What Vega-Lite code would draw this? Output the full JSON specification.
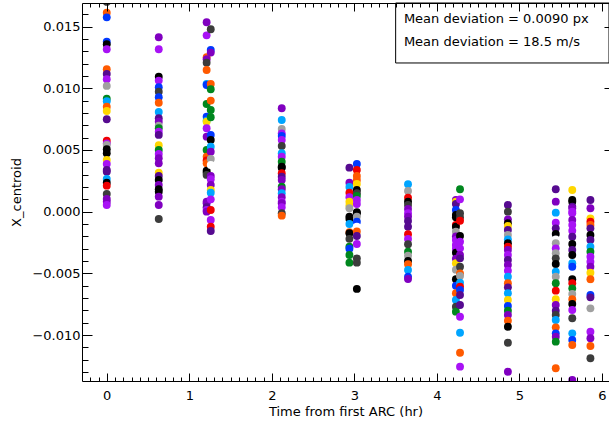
{
 "$schema": "https://vega.github.io/schema/vega-lite/v6.json",
 "width": 527,
 "height": 378,
 "autosize": {"type": "none"},
 "padding": {"left": 82, "top": 3, "right": 0, "bottom": 47},
 "background": "white",
 "config": {
  "view": {"stroke": null},
  "font": "DejaVu Sans",
  "axis": {"domainColor": "black", "tickColor": "black", "labelColor": "black", "titleColor": "black", "labelFont": "DejaVu Sans", "titleFont": "DejaVu Sans", "labelFontSize": 13, "titleFontSize": 13, "titleFontWeight": "normal", "grid": false, "domainWidth": 1, "tickWidth": 1}
 },
 "datasets": {
  "pts": [
   {"t":0,"x":0.0170,"c":"darkgray"},{"t":0,"x":0.01613,"c":"orange"},{"t":0,"x":0.01575,"c":"blue"},{"t":0,"x":0.01378,"c":"blue"},{"t":0,"x":0.01357,"c":"black"},{"t":0,"x":0.01316,"c":"violet"},{"t":0,"x":0.01154,"c":"orange"},{"t":0,"x":0.01116,"c":"darkpurple"},{"t":0,"x":0.01073,"c":"violet"},{"t":0,"x":0.01019,"c":"gray"},{"t":0,"x":0.00916,"c":"green"},{"t":0,"x":0.00895,"c":"skyblue"},{"t":0,"x":0.00851,"c":"orange"},{"t":0,"x":0.00816,"c":"yellow"},{"t":0,"x":0.00749,"c":"darkpurple"},{"t":0,"x":0.00575,"c":"red"},{"t":0,"x":0.00554,"c":"violet"},{"t":0,"x":0.0054,"c":"gray"},{"t":0,"x":0.00506,"c":"black"},{"t":0,"x":0.00473,"c":"black"},{"t":0,"x":0.00419,"c":"yellow"},{"t":0,"x":0.00387,"c":"violet"},{"t":0,"x":0.00338,"c":"darkpurple"},{"t":0,"x":0.00324,"c":"darkpurple"},{"t":0,"x":0.00265,"c":"skyblue"},{"t":0,"x":0.00235,"c":"black"},{"t":0,"x":0.00211,"c":"red"},{"t":0,"x":0.00143,"c":"darkgray"},{"t":0,"x":0.00103,"c":"purple"},{"t":0,"x":0.00081,"c":"purple"},{"t":0,"x":0.00054,"c":"violet"},
   {"t":0.63,"x":0.01413,"c":"purple"},{"t":0.63,"x":0.01316,"c":"violet"},{"t":0.63,"x":0.01094,"c":"black"},{"t":0.63,"x":0.01062,"c":"violet"},{"t":0.63,"x":0.01008,"c":"blue"},{"t":0.63,"x":0.00972,"c":"darkgray"},{"t":0.63,"x":0.00927,"c":"blue"},{"t":0.63,"x":0.00883,"c":"orange"},{"t":0.63,"x":0.00808,"c":"skyblue"},{"t":0.63,"x":0.00757,"c":"darkpurple"},{"t":0.63,"x":0.00729,"c":"purple"},{"t":0.63,"x":0.00697,"c":"gray"},{"t":0.63,"x":0.00676,"c":"green"},{"t":0.63,"x":0.00648,"c":"violet"},{"t":0.63,"x":0.00622,"c":"darkpurple"},{"t":0.63,"x":0.00538,"c":"yellow"},{"t":0.63,"x":0.005,"c":"green"},{"t":0.63,"x":0.00468,"c":"violet"},{"t":0.63,"x":0.00433,"c":"purple"},{"t":0.63,"x":0.00392,"c":"purple"},{"t":0.63,"x":0.00316,"c":"yellow"},{"t":0.63,"x":0.00289,"c":"darkpurple"},{"t":0.63,"x":0.00257,"c":"black"},{"t":0.63,"x":0.00216,"c":"purple"},{"t":0.63,"x":0.00182,"c":"black"},{"t":0.63,"x":0.00162,"c":"black"},{"t":0.63,"x":0.00122,"c":"purple"},{"t":0.63,"x":0.00054,"c":"purple"},{"t":0.63,"x":-0.00059,"c":"darkgray"},
   {"t":1.21,"x":0.01535,"c":"purple"},{"t":1.21,"x":0.01429,"c":"violet"},{"t":1.21,"x":0.01251,"c":"orange"},{"t":1.21,"x":0.01235,"c":"purple"},{"t":1.21,"x":0.01207,"c":"darkgray"},{"t":1.21,"x":0.01148,"c":"orange"},{"t":1.21,"x":0.01035,"c":"skyblue"},{"t":1.21,"x":0.01027,"c":"blue"},{"t":1.21,"x":0.00873,"c":"green"},{"t":1.21,"x":0.0077,"c":"blue"},{"t":1.21,"x":0.00737,"c":"skyblue"},{"t":1.21,"x":0.00729,"c":"yellow"},{"t":1.21,"x":0.00676,"c":"violet"},{"t":1.21,"x":0.00608,"c":"purple"},{"t":1.21,"x":0.005,"c":"green"},{"t":1.21,"x":0.00446,"c":"orange"},{"t":1.21,"x":0.00415,"c":"red"},{"t":1.21,"x":0.00392,"c":"orange"},{"t":1.21,"x":0.00332,"c":"black"},{"t":1.21,"x":0.00316,"c":"black"},{"t":1.21,"x":0.00298,"c":"darkgray"},{"t":1.21,"x":0.00081,"c":"purple"},{"t":1.21,"x":0.00068,"c":"purple"},{"t":1.21,"x":0.00036,"c":"darkpurple"},{"t":1.21,"x":0.00014,"c":"violet"},{"t":1.21,"x":0.0,"c":"purple"},
   {"t":1.26,"x":0.01478,"c":"darkgray"},{"t":1.26,"x":0.0131,"c":"blue"},{"t":1.26,"x":0.01289,"c":"purple"},{"t":1.26,"x":0.01035,"c":"orange"},{"t":1.26,"x":0.00992,"c":"green"},{"t":1.26,"x":0.009,"c":"orange"},{"t":1.26,"x":0.00824,"c":"green"},{"t":1.26,"x":0.00765,"c":"green"},{"t":1.26,"x":0.00622,"c":"blue"},{"t":1.26,"x":0.00581,"c":"black"},{"t":1.26,"x":0.00527,"c":"skyblue"},{"t":1.26,"x":0.00486,"c":"purple"},{"t":1.26,"x":0.00427,"c":"gray"},{"t":1.26,"x":0.00378,"c":"white"},{"t":1.26,"x":0.00289,"c":"purple"},{"t":1.26,"x":0.00263,"c":"violet"},{"t":1.26,"x":0.00216,"c":"purple"},{"t":1.26,"x":0.00176,"c":"yellow"},{"t":1.26,"x":0.00154,"c":"skyblue"},{"t":1.26,"x":0.001,"c":"violet"},{"t":1.26,"x":0.00014,"c":"red"},{"t":1.26,"x":-0.00067,"c":"violet"},{"t":1.26,"x":-0.00122,"c":"red"},{"t":1.26,"x":-0.00157,"c":"darkpurple"},
   {"t":2.12,"x":0.00838,"c":"purple"},{"t":2.12,"x":0.00743,"c":"skyblue"},{"t":2.12,"x":0.0067,"c":"gray"},{"t":2.12,"x":0.00635,"c":"violet"},{"t":2.12,"x":0.00613,"c":"blue"},{"t":2.12,"x":0.00581,"c":"violet"},{"t":2.12,"x":0.00532,"c":"darkgray"},{"t":2.12,"x":0.00473,"c":"skyblue"},{"t":2.12,"x":0.00446,"c":"violet"},{"t":2.12,"x":0.00405,"c":"green"},{"t":2.12,"x":0.00365,"c":"black"},{"t":2.12,"x":0.00357,"c":"black"},{"t":2.12,"x":0.00311,"c":"red"},{"t":2.12,"x":0.00284,"c":"darkpurple"},{"t":2.12,"x":0.00257,"c":"purple"},{"t":2.12,"x":0.00203,"c":"green"},{"t":2.12,"x":0.00182,"c":"purple"},{"t":2.12,"x":0.00149,"c":"skyblue"},{"t":2.12,"x":0.00117,"c":"purple"},{"t":2.12,"x":0.00081,"c":"violet"},{"t":2.12,"x":0.00068,"c":"purple"},{"t":2.12,"x":0.00036,"c":"violet"},{"t":2.12,"x":-0.00013,"c":"darkgray"},{"t":2.12,"x":-0.00032,"c":"orange"},
   {"t":2.94,"x":0.00454,"c":"white"},{"t":2.94,"x":0.00357,"c":"darkpurple"},{"t":2.94,"x":0.00235,"c":"purple"},{"t":2.94,"x":0.002,"c":"skyblue"},{"t":2.94,"x":0.00154,"c":"red"},{"t":2.94,"x":0.00117,"c":"violet"},{"t":2.94,"x":0.00081,"c":"yellow"},{"t":2.94,"x":0.0005,"c":"yellow"},{"t":2.94,"x":0.00028,"c":"gray"},{"t":2.94,"x":-0.0004,"c":"black"},{"t":2.94,"x":-0.00059,"c":"black"},{"t":2.94,"x":-0.001,"c":"skyblue"},{"t":2.94,"x":-0.00167,"c":"orange"},{"t":2.94,"x":-0.00175,"c":"black"},{"t":2.94,"x":-0.0022,"c":"darkgray"},{"t":2.94,"x":-0.00284,"c":"green"},{"t":2.94,"x":-0.003,"c":"blue"},{"t":2.94,"x":-0.00351,"c":"green"},{"t":2.94,"x":-0.00413,"c":"green"},
   {"t":3.03,"x":0.00387,"c":"blue"},{"t":3.03,"x":0.00338,"c":"red"},{"t":3.03,"x":0.0029,"c":"orange"},{"t":3.03,"x":0.00257,"c":"orange"},{"t":3.03,"x":0.00224,"c":"yellow"},{"t":3.03,"x":0.00176,"c":"black"},{"t":3.03,"x":0.0015,"c":"darkgray"},{"t":3.03,"x":0.00127,"c":"green"},{"t":3.03,"x":0.00095,"c":"violet"},{"t":3.03,"x":0.00062,"c":"violet"},{"t":3.03,"x":-0.00005,"c":"black"},{"t":3.03,"x":-0.00013,"c":"black"},{"t":3.03,"x":-0.0004,"c":"gray"},{"t":3.03,"x":-0.00081,"c":"blue"},{"t":3.03,"x":-0.00122,"c":"white"},{"t":3.03,"x":-0.0016,"c":"orange"},{"t":3.03,"x":-0.00197,"c":"darkpurple"},{"t":3.03,"x":-0.00262,"c":"violet"},{"t":3.03,"x":-0.00378,"c":"darkgray"},{"t":3.03,"x":-0.00413,"c":"darkgray"},{"t":3.03,"x":-0.00626,"c":"black"},
   {"t":3.65,"x":0.00222,"c":"skyblue"},{"t":3.65,"x":0.00168,"c":"gray"},{"t":3.65,"x":0.00113,"c":"red"},{"t":3.65,"x":0.00081,"c":"black"},{"t":3.65,"x":0.00054,"c":"darkgray"},{"t":3.65,"x":0.00022,"c":"purple"},{"t":3.65,"x":-0.00013,"c":"violet"},{"t":3.65,"x":-0.0004,"c":"purple"},{"t":3.65,"x":-0.00075,"c":"darkpurple"},{"t":3.65,"x":-0.00122,"c":"darkpurple"},{"t":3.65,"x":-0.00183,"c":"red"},{"t":3.65,"x":-0.00221,"c":"violet"},{"t":3.65,"x":-0.00264,"c":"darkgray"},{"t":3.65,"x":-0.00324,"c":"green"},{"t":3.65,"x":-0.00357,"c":"gray"},{"t":3.65,"x":-0.004,"c":"black"},{"t":3.65,"x":-0.00426,"c":"orange"},{"t":3.65,"x":-0.00472,"c":"skyblue"},{"t":3.65,"x":-0.00527,"c":"blue"},{"t":3.65,"x":-0.00545,"c":"purple"},
   {"t":4.23,"x":0.00095,"c":"purple"},{"t":4.23,"x":0.00081,"c":"yellow"},{"t":4.23,"x":0.00062,"c":"darkpurple"},{"t":4.23,"x":0.00014,"c":"blue"},{"t":4.23,"x":-0.00027,"c":"black"},{"t":4.23,"x":-0.00046,"c":"black"},{"t":4.23,"x":-0.00108,"c":"red"},{"t":4.23,"x":-0.00122,"c":"black"},{"t":4.23,"x":-0.00162,"c":"gray"},{"t":4.23,"x":-0.002,"c":"purple"},{"t":4.23,"x":-0.00229,"c":"violet"},{"t":4.23,"x":-0.0027,"c":"violet"},{"t":4.23,"x":-0.003,"c":"violet"},{"t":4.23,"x":-0.00332,"c":"black"},{"t":4.23,"x":-0.0038,"c":"purple"},{"t":4.23,"x":-0.00418,"c":"yellow"},{"t":4.23,"x":-0.0047,"c":"gray"},{"t":4.23,"x":-0.00548,"c":"black"},{"t":4.23,"x":-0.006,"c":"blue"},{"t":4.23,"x":-0.00661,"c":"orange"},{"t":4.23,"x":-0.00716,"c":"skyblue"},{"t":4.23,"x":-0.0077,"c":"darkgray"},{"t":4.23,"x":-0.0081,"c":"green"},
   {"t":4.28,"x":0.00182,"c":"green"},{"t":4.28,"x":0.001,"c":"violet"},{"t":4.28,"x":-0.00013,"c":"darkgray"},{"t":4.28,"x":-0.00046,"c":"darkgray"},{"t":4.28,"x":-0.00073,"c":"red"},{"t":4.28,"x":-0.00197,"c":"black"},{"t":4.28,"x":-0.00243,"c":"violet"},{"t":4.28,"x":-0.00297,"c":"violet"},{"t":4.28,"x":-0.0035,"c":"purple"},{"t":4.28,"x":-0.00378,"c":"darkpurple"},{"t":4.28,"x":-0.00446,"c":"darkgray"},{"t":4.28,"x":-0.005,"c":"orange"},{"t":4.28,"x":-0.00521,"c":"gray"},{"t":4.28,"x":-0.00575,"c":"skyblue"},{"t":4.28,"x":-0.00608,"c":"red"},{"t":4.28,"x":-0.00635,"c":"blue"},{"t":4.28,"x":-0.00675,"c":"darkpurple"},{"t":4.28,"x":-0.00756,"c":"darkpurple"},{"t":4.28,"x":-0.00851,"c":"violet"},{"t":4.28,"x":-0.00981,"c":"skyblue"},{"t":4.28,"x":-0.01143,"c":"orange"},{"t":4.28,"x":-0.01256,"c":"violet"},
   {"t":4.86,"x":0.00054,"c":"darkpurple"},{"t":4.86,"x":0.0,"c":"darkgray"},{"t":4.86,"x":-0.00062,"c":"purple"},{"t":4.86,"x":-0.00094,"c":"black"},{"t":4.86,"x":-0.00116,"c":"yellow"},{"t":4.86,"x":-0.00148,"c":"darkpurple"},{"t":4.86,"x":-0.00189,"c":"gray"},{"t":4.86,"x":-0.00224,"c":"skyblue"},{"t":4.86,"x":-0.00256,"c":"black"},{"t":4.86,"x":-0.00284,"c":"red"},{"t":4.86,"x":-0.0031,"c":"purple"},{"t":4.86,"x":-0.00351,"c":"violet"},{"t":4.86,"x":-0.00391,"c":"darkpurple"},{"t":4.86,"x":-0.00432,"c":"purple"},{"t":4.86,"x":-0.00478,"c":"violet"},{"t":4.86,"x":-0.00527,"c":"skyblue"},{"t":4.86,"x":-0.0058,"c":"orange"},{"t":4.86,"x":-0.00613,"c":"darkpurple"},{"t":4.86,"x":-0.00661,"c":"skyblue"},{"t":4.86,"x":-0.00716,"c":"yellow"},{"t":4.86,"x":-0.00764,"c":"blue"},{"t":4.86,"x":-0.00802,"c":"green"},{"t":4.86,"x":-0.00837,"c":"purple"},{"t":4.86,"x":-0.00883,"c":"orange"},{"t":4.86,"x":-0.00932,"c":"black"},{"t":4.86,"x":-0.01062,"c":"darkgray"},{"t":4.86,"x":-0.01297,"c":"purple"},
   {"t":5.44,"x":0.00182,"c":"darkpurple"},{"t":5.44,"x":0.00081,"c":"purple"},{"t":5.44,"x":-0.00008,"c":"skyblue"},{"t":5.44,"x":-0.00089,"c":"violet"},{"t":5.44,"x":-0.00135,"c":"darkpurple"},{"t":5.44,"x":-0.00181,"c":"black"},{"t":5.44,"x":-0.00224,"c":"white"},{"t":5.44,"x":-0.00256,"c":"gray"},{"t":5.44,"x":-0.00297,"c":"violet"},{"t":5.44,"x":-0.00337,"c":"gray"},{"t":5.44,"x":-0.00378,"c":"darkgray"},{"t":5.44,"x":-0.00424,"c":"black"},{"t":5.44,"x":-0.00486,"c":"skyblue"},{"t":5.44,"x":-0.00527,"c":"gray"},{"t":5.44,"x":-0.0058,"c":"green"},{"t":5.44,"x":-0.0064,"c":"red"},{"t":5.44,"x":-0.0071,"c":"yellow"},{"t":5.44,"x":-0.00756,"c":"purple"},{"t":5.44,"x":-0.00802,"c":"darkpurple"},{"t":5.44,"x":-0.00837,"c":"darkgray"},{"t":5.44,"x":-0.00878,"c":"skyblue"},{"t":5.44,"x":-0.00937,"c":"orange"},{"t":5.44,"x":-0.00986,"c":"blue"},{"t":5.44,"x":-0.01013,"c":"purple"},{"t":5.44,"x":-0.01053,"c":"green"},{"t":5.44,"x":-0.01269,"c":"orange"},
   {"t":5.64,"x":0.00176,"c":"yellow"},{"t":5.64,"x":0.00095,"c":"black"},{"t":5.64,"x":0.00081,"c":"black"},{"t":5.64,"x":0.00041,"c":"darkpurple"},{"t":5.64,"x":0.00028,"c":"purple"},{"t":5.64,"x":0.0,"c":"violet"},{"t":5.64,"x":-0.00013,"c":"violet"},{"t":5.64,"x":-0.00067,"c":"purple"},{"t":5.64,"x":-0.00108,"c":"violet"},{"t":5.64,"x":-0.00154,"c":"violet"},{"t":5.64,"x":-0.00203,"c":"darkpurple"},{"t":5.64,"x":-0.00262,"c":"black"},{"t":5.64,"x":-0.0031,"c":"darkpurple"},{"t":5.64,"x":-0.00351,"c":"black"},{"t":5.64,"x":-0.00418,"c":"skyblue"},{"t":5.64,"x":-0.00446,"c":"blue"},{"t":5.64,"x":-0.00548,"c":"black"},{"t":5.64,"x":-0.0058,"c":"red"},{"t":5.64,"x":-0.00621,"c":"green"},{"t":5.64,"x":-0.00667,"c":"gray"},{"t":5.64,"x":-0.0071,"c":"orange"},{"t":5.64,"x":-0.00748,"c":"black"},{"t":5.64,"x":-0.00797,"c":"violet"},{"t":5.64,"x":-0.00864,"c":"darkgray"},{"t":5.64,"x":-0.00986,"c":"skyblue"},{"t":5.64,"x":-0.0104,"c":"blue"},{"t":5.64,"x":-0.0108,"c":"orange"},{"t":5.64,"x":-0.01364,"c":"purple"},
   {"t":5.86,"x":0.00095,"c":"darkpurple"},{"t":5.86,"x":0.00028,"c":"purple"},{"t":5.86,"x":-0.00054,"c":"yellow"},{"t":5.86,"x":-0.00081,"c":"red"},{"t":5.86,"x":-0.00108,"c":"orange"},{"t":5.86,"x":-0.00135,"c":"darkpurple"},{"t":5.86,"x":-0.00189,"c":"black"},{"t":5.86,"x":-0.00229,"c":"darkpurple"},{"t":5.86,"x":-0.00284,"c":"skyblue"},{"t":5.86,"x":-0.00324,"c":"green"},{"t":5.86,"x":-0.00365,"c":"violet"},{"t":5.86,"x":-0.00405,"c":"violet"},{"t":5.86,"x":-0.00446,"c":"purple"},{"t":5.86,"x":-0.00494,"c":"yellow"},{"t":5.86,"x":-0.00548,"c":"orange"},{"t":5.86,"x":-0.00613,"c":"white"},{"t":5.86,"x":-0.00675,"c":"blue"},{"t":5.86,"x":-0.00694,"c":"darkpurple"},{"t":5.86,"x":-0.00783,"c":"gray"},{"t":5.86,"x":-0.00973,"c":"violet"},{"t":5.86,"x":-0.01026,"c":"purple"},{"t":5.86,"x":-0.01088,"c":"orange"},{"t":5.86,"x":-0.01188,"c":"darkgray"}
  ],
  "box": [{"x1": 3.5, "x2": 6.085, "y1": 0.01205, "y2": 0.01691}],
  "txt": [{"x": 3.6, "y": 0.01559, "label": "Mean deviation = 0.0090 px"}, {"x": 3.6, "y": 0.01375, "label": "Mean deviation = 18.5 m/s"}]
 },
 "resolve": {"axis": {"x": "independent", "y": "independent"}},
 "layer": [
  {
   "data": {"name": "box"},
   "mark": {"type": "rect", "fill": "white", "stroke": "black", "strokeWidth": 1},
   "encoding": {
    "x": {"field": "x1", "type": "quantitative", "scale": {"domain": [-0.3, 6.085], "nice": false, "zero": false},
          "axis": {"orient": "top", "values": [0,1,2,3,4,5,6], "labels": false, "tickSize": -8, "domain": true, "title": null, "zindex": 1}},
    "x2": {"field": "x2"},
    "y": {"field": "y1", "type": "quantitative", "scale": {"domain": [-0.01372, 0.01691], "nice": false, "zero": false},
          "axis": {"orient": "right", "values": [-0.01,-0.005,0,0.005,0.01,0.015], "labels": false, "tickSize": -5, "domain": false, "title": null, "zindex": 1}},
    "y2": {"field": "y2"}
   }
  },
  {
   "data": {"name": "txt"},
   "mark": {"type": "text", "align": "left", "baseline": "middle", "font": "DejaVu Sans", "fontSize": 13, "color": "black"},
   "encoding": {
    "x": {"field": "x", "type": "quantitative", "scale": {"domain": [-0.3, 6.085], "nice": false, "zero": false},
          "axis": {"orient": "top", "values": [-0.2,-0.1,0,0.1,0.2,0.3,0.4,0.5,0.6,0.7,0.8,0.9,1,1.1,1.2,1.3,1.4,1.5,1.6,1.7,1.8,1.9,2,2.1,2.2,2.3,2.4,2.5,2.6,2.7,2.8,2.9,3,3.1,3.2,3.3,3.4,3.5,3.6,3.7,3.8,3.9,4,4.1,4.2,4.3,4.4,4.5,4.6,4.7,4.8,4.9,5,5.1,5.2,5.3,5.4,5.5,5.6,5.7,5.8,5.9,6], "labels": false, "tickSize": -4, "domain": false, "title": null, "zindex": 1}},
    "y": {"field": "y", "type": "quantitative", "scale": {"domain": [-0.01372, 0.01691], "nice": false, "zero": false},
          "axis": {"orient": "left", "values": [-0.013,-0.012,-0.011,-0.01,-0.009,-0.008,-0.007,-0.006,-0.005,-0.004,-0.003,-0.002,-0.001,0,0.001,0.002,0.003,0.004,0.005,0.006,0.007,0.008,0.009,0.01,0.011,0.012,0.013,0.014,0.015,0.016], "labels": false, "tickSize": -6, "domain": false, "title": null, "zindex": 1}},
    "text": {"field": "label"}
   }
  },
  {
   "data": {"name": "pts"},
   "mark": {"type": "circle", "size": 62, "opacity": 1, "clip": true},
   "encoding": {
    "x": {"field": "t", "type": "quantitative", "scale": {"domain": [-0.3, 6.085], "nice": false, "zero": false},
          "axis": {"orient": "bottom", "values": [0,1,2,3,4,5,6], "ticks": false, "labelPadding": 8, "domain": true, "title": "Time from first ARC (hr)", "titlePadding": 3}},
    "y": {"field": "x", "type": "quantitative", "scale": {"domain": [-0.01372, 0.01691], "nice": false, "zero": false},
          "axis": {"orient": "left", "values": [-0.01,-0.005,0,0.005,0.01,0.015], "format": ".3f", "ticks": false, "labelPadding": 2, "domain": true, "title": "X_centroid", "titlePadding": 8}},
    "color": {"field": "c", "type": "nominal", "legend": null,
              "scale": {"domain": ["purple","darkpurple","violet","black","darkgray","gray","red","orange","yellow","green","blue","skyblue","white"],
                        "range": ["#8000c0","#560a90","#a812f5","#000000","#3c3c3c","#a0a0a0","#f00000","#ff5a00","#ffd700","#00871e","#0038ff","#00a5ff","#ffffff"]}}
   }
  },
  {
   "data": {"name": "box"},
   "mark": {"type": "point", "opacity": 0},
   "encoding": {
    "x": {"field": "x1", "type": "quantitative", "scale": {"domain": [-0.3, 6.085], "nice": false, "zero": false},
          "axis": {"orient": "bottom", "values": [0,1,2,3,4,5,6], "labels": false, "tickSize": -8, "domain": false, "title": null, "zindex": 1}},
    "y": {"field": "y1", "type": "quantitative", "scale": {"domain": [-0.01372, 0.01691], "nice": false, "zero": false},
          "axis": {"orient": "left", "values": [-0.01,-0.005,0,0.005,0.01,0.015], "labels": false, "tickSize": -10, "domain": false, "title": null, "zindex": 1}}
   }
  },
  {
   "data": {"name": "box"},
   "mark": {"type": "point", "opacity": 0},
   "encoding": {
    "x": {"field": "x1", "type": "quantitative", "scale": {"domain": [-0.3, 6.085], "nice": false, "zero": false},
          "axis": {"orient": "bottom", "values": [-0.2,-0.1,0,0.1,0.2,0.3,0.4,0.5,0.6,0.7,0.8,0.9,1,1.1,1.2,1.3,1.4,1.5,1.6,1.7,1.8,1.9,2,2.1,2.2,2.3,2.4,2.5,2.6,2.7,2.8,2.9,3,3.1,3.2,3.3,3.4,3.5,3.6,3.7,3.8,3.9,4,4.1,4.2,4.3,4.4,4.5,4.6,4.7,4.8,4.9,5,5.1,5.2,5.3,5.4,5.5,5.6,5.7,5.8,5.9,6], "labels": false, "tickSize": -4, "domain": false, "title": null, "zindex": 1}},
    "y": {"field": "y1", "type": "quantitative", "scale": {"domain": [-0.01372, 0.01691], "nice": false, "zero": false}, "axis": null}
   }
  }
 ]
}
